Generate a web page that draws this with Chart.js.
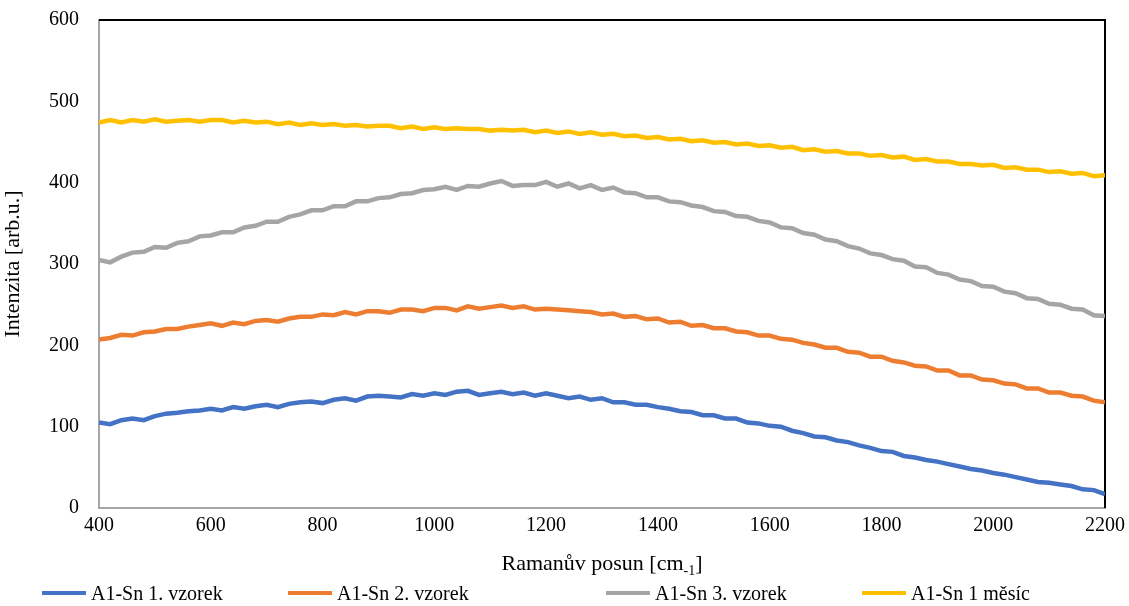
<!DOCTYPE html>
<html>
<head>
<meta charset="utf-8">
<script src="https://cdn.jsdelivr.net/npm/chart.js@4"></script>
<style>
  html, body { margin: 0; padding: 0; background: #fff; }
  #wrap { width: 1129px; height: 606px; position: relative; }
</style>
</head>
<body>
<div id="wrap"><canvas id="chart"></canvas></div>
<script>
// ── Data ──────────────────────────────────────────────────────────────────────
const shift = [
  400, 420, 440, 460, 480, 500, 520, 540, 560, 580, 600, 620, 640, 660, 680, 700, 720, 740, 760, 780,
  800, 820, 840, 860, 880, 900, 920, 940, 960, 980, 1000, 1020, 1040, 1060, 1080, 1100, 1120, 1140, 1160, 1180,
  1200, 1220, 1240, 1260, 1280, 1300, 1320, 1340, 1360, 1380, 1400, 1420, 1440, 1460, 1480, 1500, 1520, 1540, 1560, 1580,
  1600, 1620, 1640, 1660, 1680, 1700, 1720, 1740, 1760, 1780, 1800, 1820, 1840, 1860, 1880, 1900, 1920, 1940, 1960, 1980,
  2000, 2020, 2040, 2060, 2080, 2100, 2120, 2140, 2160, 2180, 2200
];

const vzorek1 = [
  105, 103, 108, 110, 108, 113, 116, 117, 119, 120, 122, 120, 124, 122, 125, 127, 124, 128, 130, 131,
  129, 133, 135, 132, 137, 138, 137, 136, 140, 138, 141, 139, 143, 144, 139, 141, 143, 140, 142, 138,
  141, 138, 135, 137, 133, 135, 130, 130, 127, 127, 124, 122, 119, 118, 114, 114, 110, 110, 105, 104,
  101, 100, 95, 92, 88, 87, 83, 81, 77, 74, 70, 69, 64, 62, 59, 57, 54, 51, 48, 46,
  43, 41, 38, 35, 32, 31, 29, 27, 23, 22, 17
];

const vzorek2 = [
  207, 209, 213, 212, 216, 217, 220, 220, 223, 225, 227, 224, 228, 226, 230, 231, 229, 233, 235, 235,
  238, 237, 241, 238, 242, 242, 240, 244, 244, 242, 246, 246, 243, 248, 245, 247, 249, 246, 248, 244,
  245, 244, 243, 242, 241, 238, 239, 235, 236, 232, 233, 228, 229, 224, 225, 221, 221, 217, 216, 212,
  212, 208, 207, 203, 201, 197, 197, 192, 191, 186, 186, 181, 179, 175, 174, 169, 169, 163, 163, 158,
  157, 153, 152, 147, 147, 142, 142, 138, 137, 132, 130
];

const vzorek3 = [
  305, 302, 309, 314, 315, 321, 320, 326, 328, 334, 335, 339, 339, 345, 347, 352, 352, 358, 361, 366,
  366, 371, 371, 377, 377, 381, 382, 386, 387, 391, 392, 395, 391, 396, 395, 399, 402, 396, 397, 397,
  401, 395, 399, 393, 397, 391, 394, 388, 387, 382, 382, 377, 376, 372, 370, 365, 364, 359, 358, 353,
  351, 345, 344, 338, 336, 330, 328, 322, 319, 313, 311, 306, 304, 297, 296, 289, 287, 281, 279, 273,
  272, 266, 264, 258, 257, 251, 250, 245, 244, 237, 236
];

const mesic1 = [
  474, 477, 474, 477, 475, 478, 475, 476, 477, 475, 477, 477, 474, 476, 474, 475, 472, 474, 471, 473,
  471, 472, 470, 471, 469, 470, 470, 467, 469, 466, 468, 466, 467, 466, 466, 464, 465, 464, 465, 462,
  464, 461, 463, 460, 462, 459, 460, 457, 458, 455, 456, 453, 454, 451, 452, 449, 450, 447, 448, 445,
  446, 443, 444, 440, 441, 438, 439, 436, 436, 433, 434, 431, 432, 428, 429, 426, 426, 423, 423, 421,
  422, 418, 419, 416, 416, 413, 414, 411, 412, 408, 409
];

const seriesNames  = ['A1-Sn 1. vzorek', 'A1-Sn 2. vzorek', 'A1-Sn 3. vzorek', 'A1-Sn 1 měsíc'];
const seriesValues = [vzorek1, vzorek2, vzorek3, mesic1];
const seriesColors = ['#4472C4', '#ED7D31', '#A5A5A5', '#FFC000'];

const FONT = '"Liberation Serif", "Times New Roman", serif';

// ── Extras: frame, axis title with subscript, legend ─────────────────────────
const extras = {
  id: 'extras',
  beforeDatasetsDraw(chart) {
    const { ctx, chartArea: a } = chart;
    ctx.save();
    ctx.strokeStyle = '#000';
    ctx.lineWidth = 2;
    ctx.beginPath();
    ctx.moveTo(a.left, a.top);
    ctx.lineTo(a.right, a.top);
    ctx.lineTo(a.right, a.bottom);
    ctx.stroke();
    ctx.restore();
  },
  afterDraw(chart) {
    const { ctx } = chart;
    ctx.save();
    ctx.fillStyle = '#000';
    ctx.textBaseline = 'alphabetic';

    // x title: Ramanův posun [cm-1]
    ctx.font = '22px ' + FONT;
    const main = 'Ramanův posun [cm';
    const sub = '-1';
    const close = ']';
    const wMain = ctx.measureText(main).width;
    ctx.font = '14px ' + FONT;
    const wSub = ctx.measureText(sub).width;
    ctx.font = '22px ' + FONT;
    const wClose = ctx.measureText(close).width;
    let x = 602 - (wMain + wSub + wClose) / 2;
    const base = 570;
    ctx.fillText(main, x, base);
    x += wMain;
    ctx.font = '14px ' + FONT;
    ctx.fillText(sub, x, base + 5);
    x += wSub;
    ctx.font = '22px ' + FONT;
    ctx.fillText(close, x, base);

    // legend
    const lx = [42, 288, 606, 862];
    ctx.font = '20px ' + FONT;
    seriesNames.forEach((name, i) => {
      ctx.strokeStyle = seriesColors[i];
      ctx.lineWidth = 4;
      ctx.beginPath();
      ctx.moveTo(lx[i], 593);
      ctx.lineTo(lx[i] + 44, 593);
      ctx.stroke();
      ctx.fillText(name, lx[i] + 49, 600);
    });
    ctx.restore();
  }
};

// ── Chart ─────────────────────────────────────────────────────────────────────
new Chart(document.getElementById('chart'), {
  type: 'line',
  data: {
    datasets: seriesNames.map((name, i) => ({
      label: name,
      data: shift.map((s, j) => ({ x: s, y: seriesValues[i][j] })),
      borderColor: seriesColors[i],
      backgroundColor: seriesColors[i],
      borderWidth: 4.5,
      pointRadius: 0,
      tension: 0,
    }))
  },
  options: {
    responsive: true,
    maintainAspectRatio: false,
    animation: false,
    layout: { padding: { left: 0, right: 24, top: 20, bottom: 0 } },
    plugins: {
      legend: { display: false },
      tooltip: { enabled: false },
    },
    scales: {
      x: {
        type: 'linear',
        min: 400,
        max: 2200,
        afterFit: s => { s.height = 98; s.paddingLeft = 0; s.paddingRight = 0; },
        ticks: { stepSize: 200, color: '#000', padding: 6, maxRotation: 0, font: { family: FONT, size: 20 },
                 callback: v => String(v) },
        grid: { display: false, drawTicks: false },
        border: { display: true, color: '#A6A6A6', width: 2 },
      },
      y: {
        min: 0,
        max: 600,
        afterFit: s => { s.width = 99; s.paddingTop = 0; s.paddingBottom = 0; },
        ticks: { stepSize: 100, color: '#000', padding: 20, font: { family: FONT, size: 20 } },
        grid: { display: false, drawTicks: false },
        border: { display: true, color: '#A6A6A6', width: 2 },
        title: { display: true, text: 'Intenzita [arb.u.]', color: '#000', padding: 0, font: { family: FONT, size: 22 } },
      }
    }
  },
  plugins: [extras]
});
</script>
</body>
</html>
